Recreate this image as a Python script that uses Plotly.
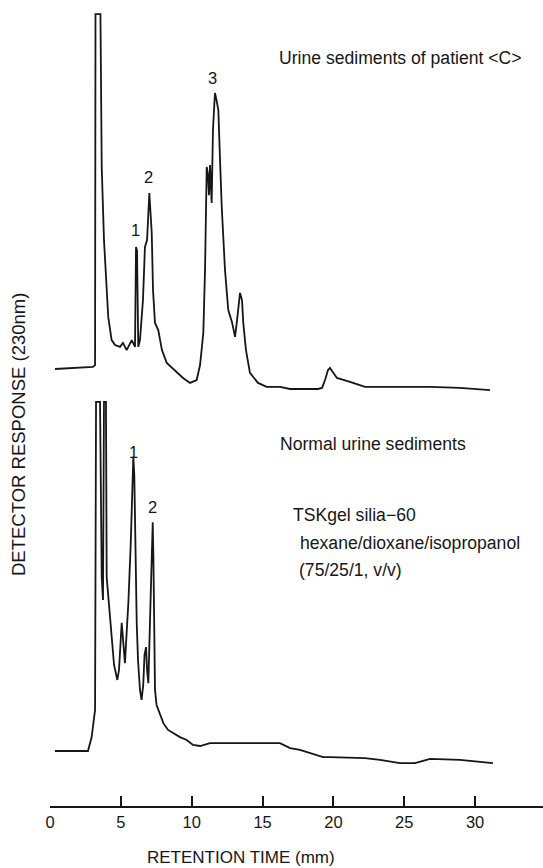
import plotly.graph_objects as go

# ---- Data (retention time in min, detector response in relative units) ----
patient_time = [0.35, 3.03, 3.18, 3.21, 3.56, 3.65, 3.81, 4.00, 4.11, 4.35, 4.59, 4.94,
                5.15, 5.41, 5.77, 6.00, 6.07, 6.14, 6.23, 6.35, 6.56, 6.70, 6.85, 7.01,
                7.09, 7.18, 7.27, 7.41, 7.64, 7.90, 8.24, 8.61, 8.94, 9.39, 9.88, 10.35,
                10.59, 10.82, 10.94, 11.06, 11.15, 11.22, 11.29, 11.41, 11.50, 11.64, 11.75,
                11.88, 12.00, 12.12, 12.35, 12.58, 12.84, 13.06, 13.20, 13.41, 13.55, 13.64,
                13.83, 14.11, 14.68, 15.29, 16.23, 16.94, 18.91, 19.20, 19.41, 19.62, 19.76,
                19.97, 20.25, 21.17, 22.23, 24.70, 26.82, 28.93, 31.05]
patient_resp = [0.0, 0.6, 1.1, 99.4, 99.4, 56.6, 36.1, 24.1, 14.6, 8.1, 6.7, 6.2,
                7.3, 5.3, 8.1, 6.2, 34.2, 33.3, 6.2, 8.1, 19.3, 34.2, 36.1, 49.3,
                43.1, 38.1, 22.1, 12.9, 10.9, 5.3, 1.7, 0.3, -0.8, -2.5, -3.9, -3.1,
                1.1, 10.1, 27.7, 56.6, 54.3, 48.7, 57.1, 46.5, 66.9, 77.3, 75.4,
                72.5, 58.5, 45.4, 27.7, 16.5, 13.2, 9.0, 13.7, 21.3, 19.3, 12.9,
                5.3, -1.1, -3.9, -5.0, -5.0, -5.6, -5.6, -5.3, -3.1, -0.3, 0.3,
                -0.8, -2.5, -3.6, -5.0, -5.0, -5.0, -5.3, -5.9]

normal_time = [0.35, 2.68, 2.94, 3.18, 3.25, 3.53, 3.65, 3.74, 3.81, 3.95, 4.00, 4.11,
               4.35, 4.52, 4.75, 4.87, 5.06, 5.15, 5.29, 5.36, 5.53, 5.70, 5.79, 5.88,
               5.95, 6.00, 6.12, 6.21, 6.35, 6.46, 6.58, 6.67, 6.78, 6.85, 6.94, 7.06,
               7.16, 7.25, 7.30, 7.41, 7.52, 7.64, 8.00, 8.33, 8.70, 9.17, 9.65, 10.09,
               10.59, 11.29, 11.76, 13.41, 15.76, 16.23, 16.94, 17.64, 19.27, 19.76,
               22.23, 23.29, 24.70, 25.76, 26.82, 28.93, 31.26]
normal_resp = [0.0, 0.0, 3.9, 11.5, 97.8, 97.8, 48.7, 42.3, 97.8, 97.8, 48.7, 43.1,
               30.3, 24.1, 19.9, 22.7, 35.9, 31.1, 24.6, 29.7, 41.5, 58.3, 70.3, 82.4,
               77.3, 61.9, 35.9, 25.5, 17.1, 14.3, 18.5, 26.9, 29.1, 22.7, 19.0, 36.7,
               53.5, 64.1, 53.5, 17.1, 12.9, 11.5, 7.8, 5.9, 5.0, 3.9, 3.1, 1.7,
               1.4, 2.2, 2.2, 2.2, 2.2, 2.2, 0.8, 0.3, -1.7, -1.7,
               -2.0, -2.5, -3.4, -3.4, -2.2, -2.5, -3.4]

patient_peak_labels = ["1", "2", "3"]
patient_peak_time = [6.00, 6.92, 11.50]
patient_peak_resp = [38.9, 53.8, 81.5]

normal_peak_labels = ["1", "2"]
normal_peak_time = [5.86, 7.20]
normal_peak_resp = [83.8, 68.3]

x_ticks = [0, 5, 10, 15, 20, 25, 30]

# ---- Layout geometry ----
W, H = 543, 868
ML, MR, MT, MB = 50, 0, 10, 61
PH = H - MT - MB
PX_PER_MIN = 14.17
PX_PER_UNIT = 3.57

def y_range(domain, base_px):
    p_bot = MT + (1 - domain[0]) * PH
    p_top = MT + (1 - domain[1]) * PH
    return [(base_px - p_bot) / PX_PER_UNIT, (base_px - p_top) / PX_PER_UNIT]

top_dom = [0.49, 1.0]
bot_dom = [0.0, 0.53]

FONT = "Liberation Sans, Arial, Helvetica, sans-serif"
LINE = "#161616"

fig = go.Figure()
fig.add_trace(go.Scatter(x=patient_time, y=patient_resp, mode="lines",
                         line=dict(color=LINE, width=1.8), yaxis="y",
                         hoverinfo="x+y", showlegend=False))
fig.add_trace(go.Scatter(x=normal_time, y=normal_resp, mode="lines",
                         line=dict(color=LINE, width=1.8), yaxis="y2",
                         hoverinfo="x+y", showlegend=False))

ann = []
for t, x, y in zip(patient_peak_labels, patient_peak_time, patient_peak_resp):
    ann.append(dict(text=t, x=x, y=y, xref="x", yref="y", showarrow=False,
                    font=dict(size=16.5, color=LINE, family=FONT)))
for t, x, y in zip(normal_peak_labels, normal_peak_time, normal_peak_resp):
    ann.append(dict(text=t, x=x, y=y, xref="x", yref="y2", showarrow=False,
                    font=dict(size=16.5, color=LINE, family=FONT)))

def pap(px, py):
    return (px - ML) / (W - ML - MR), (H - MB - py) / PH

texts = [
    ("Urine sediments of patient &lt;C&gt;", 277, 58),
    ("Normal urine sediments", 278, 444),
    ("TSKgel silia\u221260", 291, 515),
    ("hexane/dioxane/isopropanol", 298, 543),
    ("(75/25/1, v/v)", 297, 570),
]
for t, px, py in texts:
    xp, yp = pap(px, py)
    ann.append(dict(text=t, x=xp, y=yp, xref="paper", yref="paper", showarrow=False,
                    xanchor="left", yanchor="middle",
                    font=dict(size=17.6, color=LINE, family=FONT)))

xp, yp = pap(241, 858)
ann.append(dict(text="RETENTION TIME (mm)", x=xp, y=yp, xref="paper", yref="paper",
                showarrow=False, xanchor="center", yanchor="middle",
                font=dict(size=17, color=LINE, family=FONT)))
xp, yp = pap(18, 435)
ann.append(dict(text="DETECTOR RESPONSE (230nm)", x=xp, y=yp, xref="paper", yref="paper",
                showarrow=False, xanchor="center", yanchor="middle", textangle=-90,
                font=dict(size=18.5, color=LINE, family=FONT)))

fig.update_layout(
    width=W, height=H,
    margin=dict(l=ML, r=MR, t=MT, b=MB, pad=0),
    paper_bgcolor="white", plot_bgcolor="rgba(0,0,0,0)",
    showlegend=False,
    xaxis=dict(range=[0, (W - ML - MR) / PX_PER_MIN], tickvals=x_ticks,
               ticks="inside", ticklen=10, tickwidth=1.5, tickcolor=LINE,
               showline=True, linecolor=LINE, linewidth=1.5,
               showgrid=False, zeroline=False, anchor="free", position=0,
               tickfont=dict(size=16.5, color=LINE, family=FONT)),
    yaxis=dict(domain=top_dom, range=y_range(top_dom, 369), visible=False,
               showgrid=False, zeroline=False),
    yaxis2=dict(domain=bot_dom, range=y_range(bot_dom, 751), visible=False,
                showgrid=False, zeroline=False),
    annotations=ann,
)

fig.write_html("out.html", config={"displayModeBar": False},
               post_script="document.body.style.margin='0';document.body.style.padding='0';")
